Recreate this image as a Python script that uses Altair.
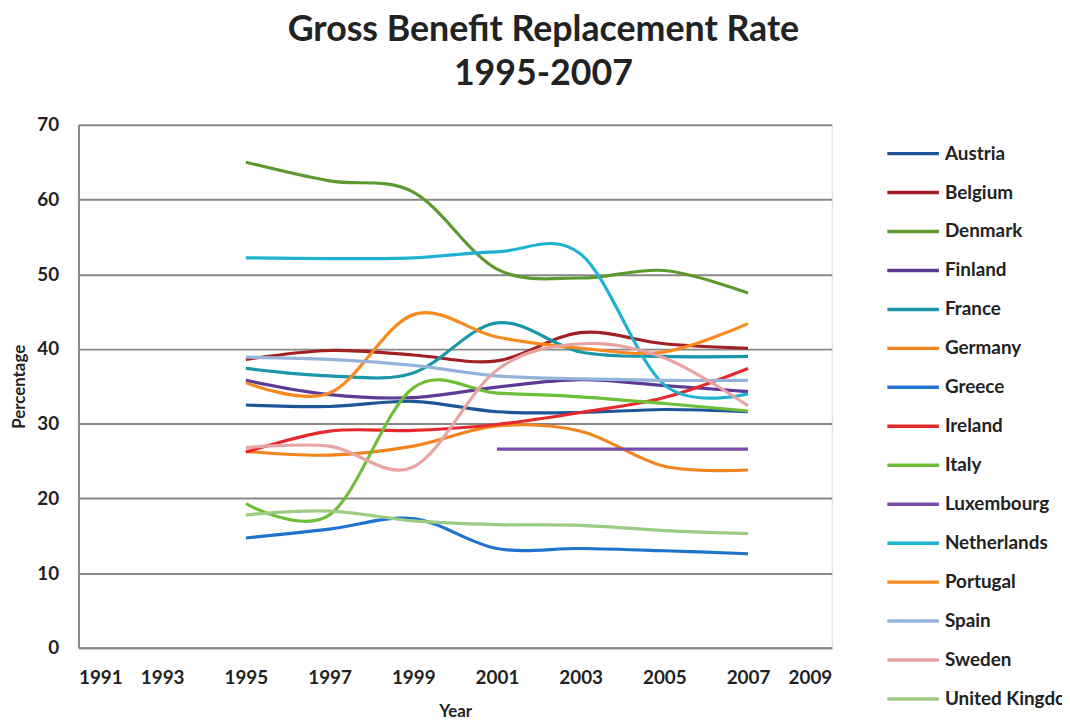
import altair as alt
import pandas as pd

years = [1995, 1997, 1999, 2001, 2003, 2005, 2007]
countries = ["Austria", "Belgium", "Denmark", "Finland", "France", "Germany", "Greece",
             "Ireland", "Italy", "Luxembourg", "Netherlands", "Portugal", "Spain",
             "Sweden", "United Kingdom"]
austria = [32.5, 32.3, 33.0, 31.6, 31.5, 31.9, 31.6]
belgium = [38.6, 39.8, 39.2, 38.4, 42.2, 40.7, 40.1]
denmark = [65.0, 62.5, 61.0, 50.7, 49.5, 50.5, 47.5]
finland = [35.8, 33.9, 33.5, 34.9, 35.9, 35.1, 34.3]
france = [37.4, 36.4, 36.8, 43.5, 39.6, 39.0, 39.0]
germany = [26.3, 25.8, 27.0, 29.7, 29.0, 24.3, 23.8]
greece = [14.7, 15.9, 17.3, 13.3, 13.3, 13.0, 12.6]
ireland = [26.2, 29.0, 29.1, 29.9, 31.5, 33.5, 37.4]
italy = [19.3, 17.8, 34.8, 34.1, 33.6, 32.7, 31.7]
luxembourg = [None, None, None, 26.6, 26.6, 26.6, 26.6]
netherlands = [52.2, 52.1, 52.2, 53.0, 52.7, 35.2, 34.0]
portugal = [35.5, 34.1, 44.6, 41.6, 40.1, 39.6, 43.4]
spain = [38.9, 38.6, 37.8, 36.4, 36.0, 35.8, 35.8]
sweden = [26.8, 27.0, 24.2, 37.2, 40.7, 38.8, 32.4]
united_kingdom = [17.8, 18.3, 17.0, 16.5, 16.4, 15.7, 15.3]

colors = ["#1F5597", "#A21F23", "#5C9A2F", "#5D3A93", "#1B96A8", "#F28420", "#1E74CC",
          "#E42A2C", "#6EBE3A", "#7A4BAA", "#1DB2D0", "#F7891F", "#93B3DA",
          "#E8A3A3", "#9CCB83"]

series = [austria, belgium, denmark, finland, france, germany, greece, ireland, italy,
          luxembourg, netherlands, portugal, spain, sweden, united_kingdom]

rows = []
for name, vals in zip(countries, series):
    for yr, v in zip(years, vals):
        if v is not None:
            rows.append({"Year": yr, "Percentage": v, "Country": name})
df = pd.DataFrame(rows)

FONT = "Lato"

chart = alt.Chart(df).mark_line(interpolate="cardinal", strokeWidth=3.2).encode(
    x=alt.X("Year:Q",
            scale=alt.Scale(domain=[1991, 2009], nice=False, zero=False),
            axis=alt.Axis(values=list(range(1991, 2010, 2)), format="d", title="Year",
                          grid=False, ticks=False, domainColor="#878787", domainWidth=2,
                          labelPadding=21, labelFontSize=19, labelFontWeight="bold",
                          labelColor="#222222", titleFontSize=17, titleFontWeight="bold",
                          titlePadding=16, titleColor="#222222", labelFont=FONT, titleFont=FONT)),
    y=alt.Y("Percentage:Q",
            scale=alt.Scale(domain=[0, 70], nice=False),
            axis=alt.Axis(values=list(range(0, 71, 10)), title="Percentage",
                          grid=True, gridColor="#878787", gridWidth=2, ticks=False,
                          domainColor="#878787", domainWidth=2, labelPadding=20,
                          labelFontSize=19, labelFontWeight="bold", labelColor="#222222",
                          titleFontSize=17, titleFontWeight="bold", titlePadding=8,
                          titleColor="#222222", labelFont=FONT, titleFont=FONT)),
    color=alt.Color("Country:N", scale=alt.Scale(domain=countries, range=colors),
                    legend=alt.Legend(title=None, orient="none", legendX=826, legendY=14,
                                      symbolType="M-2,0H2", symbolStrokeWidth=3.5,
                                      symbolSize=676, labelFontSize=19, labelFontWeight="bold",
                                      labelFont=FONT, labelColor="#222222", rowPadding=14.25,
                                      labelOffset=17, labelLimit=300)),
).properties(
    width=759, height=527,
    title=alt.TitleParams(text=["Gross Benefit Replacement Rate", "1995-2007"],
                          fontSize=36, font=FONT, fontWeight="bold", color="#222222",
                          lineHeight=44, anchor="middle", dx=89, offset=23),
    autosize=alt.AutoSizeParams(type="none"),
    padding={"left": 71, "top": 115, "right": 232, "bottom": 75},
).configure_view(stroke=None).configure(background="white")

chart.save("out.html", embed_options={"renderer": "svg", "actions": False})
